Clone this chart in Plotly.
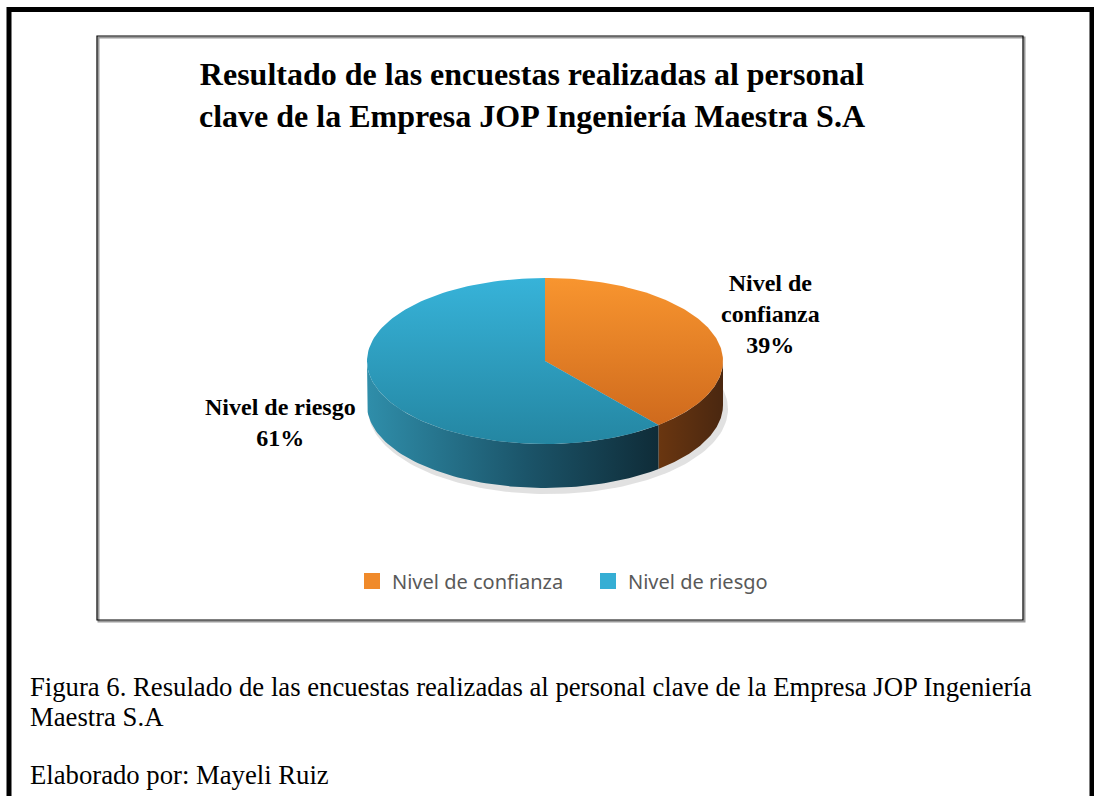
import numpy as np
import plotly.graph_objects as go

# ---- data ----
categories = ["Nivel de confianza", "Nivel de riesgo"]
values = [39, 61]
label_text = ["Nivel de<br>confianza<br>39%", "Nivel de riesgo<br>61%"]

title_text = "Resultado de las encuestas realizadas al personal<br>clave de la Empresa JOP Ingeniería Maestra S.A"
caption_lines = ["Figura 6. Resulado de las encuestas realizadas al personal clave de la Empresa JOP Ingeniería",
                 "Maestra S.A", "", "Elaborado por: Mayeli Ruiz"]

# ---- style ----
W, H = 1094, 796
OFF = 0  # page body margin removed via post_script
cx, cy, rx, ry, depth = 545, 361, 178, 83, 44
top_scales = [[[0, "#cf6a1d"], [1, "#f8952f"]], [[0, "#2486a2"], [1, "#37b3d9"]]]
side_scales = [[[0, "#6a3610"], [1, "#4a2710"]], [[0, "#2f8eaa"], [0.55, "#1b5469"], [1, "#0f2c38"]]]
legend_colors = ["#f08a2a", "#35aed4"]

fig = go.Figure()

total = sum(values)
bounds = np.cumsum([0] + values) / total * 360.0


def pt(theta_deg, dy=0.0):
    t = np.radians(theta_deg)
    return cx + rx * np.sin(t), cy - ry * np.cos(t) + dy


# soft shadow under the pie
ts = np.linspace(0, 360, 200)
sx = cx + 3 + (rx + 2) * np.sin(np.radians(ts))
sy = cy + depth + 4 - (ry + 2) * np.cos(np.radians(ts))
fig.add_trace(go.Scatter(x=sx, y=sy, fill="toself", mode="lines", line=dict(width=0),
                         fillcolor="rgba(120,120,120,0.22)", hoverinfo="skip", showlegend=False))

# side walls (front half: 90..270 degrees)
for i in range(len(values)):
    a0, a1 = bounds[i], bounds[i + 1]
    lo, hi = max(a0, 90), min(a1, 270)
    if hi <= lo:
        continue
    th = np.linspace(lo, hi, 80)
    xs_top, ys_top = pt(th)
    xs_bot, ys_bot = pt(th[::-1], depth)
    xs = np.concatenate([xs_top, xs_bot])
    ys = np.concatenate([ys_top, ys_bot])
    fig.add_trace(go.Scatter(x=xs, y=ys, fill="toself", mode="lines", line=dict(width=0),
                             fillgradient=dict(type="horizontal", colorscale=side_scales[i]),
                             hoverinfo="skip", showlegend=False))

# top faces
for i in range(len(values)):
    a0, a1 = bounds[i], bounds[i + 1]
    th = np.linspace(a0, a1, 120)
    ex, ey = pt(th)
    xs = np.concatenate([[cx], ex, [cx]])
    ys = np.concatenate([[cy], ey, [cy]])
    fig.add_trace(go.Scatter(x=xs, y=ys, fill="toself", mode="lines", line=dict(width=0),
                             fillgradient=dict(type="vertical", colorscale=top_scales[i]),
                             hoverinfo="skip", showlegend=False))

# legend entries
for i, c in enumerate(categories):
    fig.add_trace(go.Scatter(x=[None], y=[None], mode="markers", name=c,
                             marker=dict(symbol="square", size=16, color=legend_colors[i])))

# data labels
label_pos = [(770, 314), (280, 422)]
for i, t in enumerate(label_text):
    fig.add_annotation(x=label_pos[i][0], y=label_pos[i][1], text="<b>" + t + "</b>", showarrow=False,
                       xref="x", yref="y", align="center",
                       font=dict(family="Liberation Serif", size=24, color="#000000"))

# title
fig.add_annotation(x=532, y=95, xref="x", yref="y", text="<b>" + title_text + "</b>", showarrow=False,
                   align="center", font=dict(family="Liberation Serif", size=32, color="#000000"))

# caption
cap_y = [687, 717, 746, 775]
for line, yy in zip(caption_lines, cap_y):
    if line:
        fig.add_annotation(x=28, y=yy, xref="x", yref="y", text=line, showarrow=False, xanchor="left",
                           font=dict(family="Liberation Serif", size=26.7, color="#000000"))

# frames
fig.add_shape(type="rect", x0=9, y0=9.5, x1=1092, y1=830, xref="x", yref="y",
              line=dict(color="black", width=5))
fig.add_shape(type="rect", x0=98.5, y0=37.5, x1=1024.5, y1=621.5, xref="x", yref="y",
              line=dict(color="#9a9a9a", width=2))
fig.add_shape(type="rect", x0=97, y0=36, x1=1023, y1=620, xref="x", yref="y",
              line=dict(color="black", width=1.2), fillcolor="rgba(0,0,0,0)")

fig.update_layout(
    width=W, height=H, margin=dict(l=0, r=0, t=0, b=0),
    paper_bgcolor="white", plot_bgcolor="white",
    xaxis=dict(range=[OFF, W + OFF], visible=False, fixedrange=True),
    yaxis=dict(range=[H + OFF, OFF], visible=False, fixedrange=True),
    showlegend=True,
    legend=dict(orientation="h", x=(352 - OFF) / W, xanchor="left", y=1 - (581 - OFF) / H, yanchor="middle",
                font=dict(family="Noto Sans", size=20, color="#595959"),
                bgcolor="rgba(0,0,0,0)", itemwidth=30, entrywidth=191, entrywidthmode="pixels"),
    hovermode=False,
)

fig.write_html("out.html", config={"displayModeBar": False},
               post_script="document.body.style.margin='0';document.body.style.overflow='hidden';")
